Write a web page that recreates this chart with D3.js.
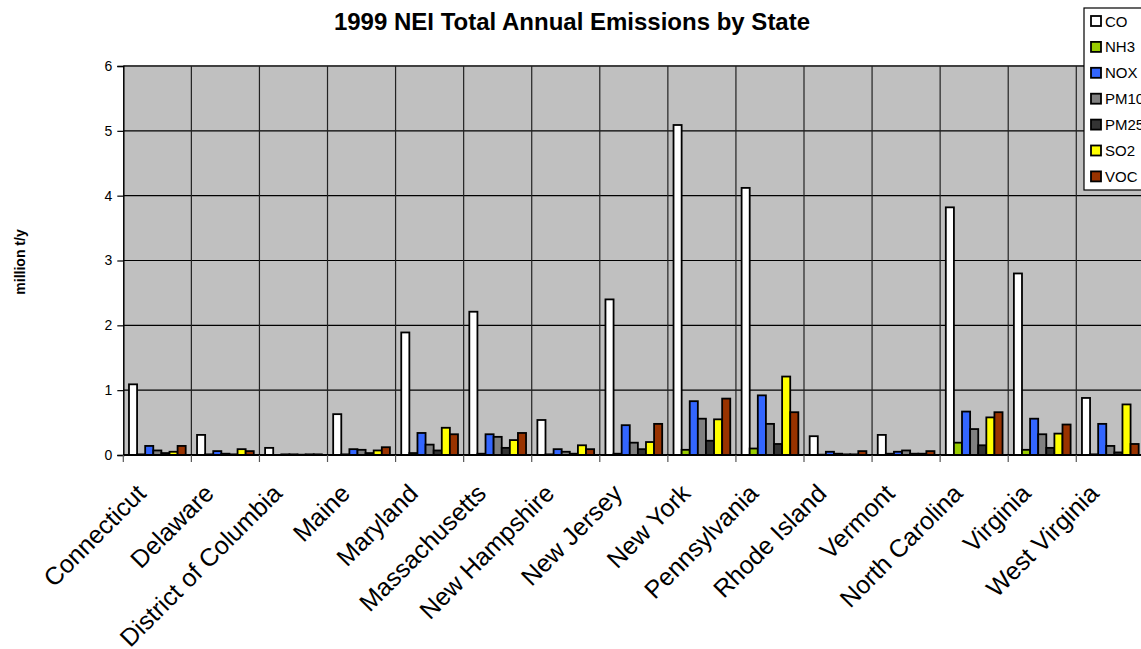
<!DOCTYPE html>
<html><head><meta charset="utf-8">
<script src="https://cdn.jsdelivr.net/npm/d3@7"></script>
<style>body{margin:0;background:#fff;} svg{display:block;font-family:Arial,"Liberation Sans",sans-serif;}</style>
</head><body>
<svg id="chart" width="1141" height="649"></svg>
<script>
const states = ["Connecticut","Delaware","District of Columbia","Maine","Maryland","Massachusetts","New Hampshire","New Jersey","New York","Pennsylvania","Rhode Island","Vermont","North Carolina","Virginia","West Virginia"];
const seriesNames = ["CO","NH3","NOX","PM10","PM25","SO2","VOC"];
const seriesColors = ["#FFFFFF","#99CC00","#3366FF","#808080","#333333","#FFFF00","#993300"];
const CO   = [1.09,0.31,0.11,0.63,1.89,2.21,0.54,2.40,5.09,4.12,0.29,0.31,3.82,2.80,0.88];
const NH3  = [0.01,0.01,0.00,0.01,0.03,0.02,0.01,0.02,0.08,0.10,0.005,0.02,0.19,0.08,0.01];
const NOX  = [0.14,0.06,0.01,0.09,0.34,0.32,0.09,0.46,0.83,0.92,0.05,0.05,0.67,0.56,0.48];
const PM10 = [0.07,0.02,0.01,0.08,0.16,0.28,0.05,0.19,0.56,0.48,0.02,0.07,0.40,0.32,0.14];
const PM25 = [0.03,0.01,0.005,0.03,0.07,0.11,0.02,0.09,0.22,0.17,0.01,0.02,0.15,0.11,0.04];
const SO2  = [0.05,0.09,0.01,0.07,0.42,0.23,0.15,0.20,0.55,1.21,0.01,0.02,0.58,0.33,0.78];
const VOC  = [0.14,0.06,0.01,0.12,0.32,0.34,0.09,0.48,0.87,0.66,0.06,0.06,0.66,0.47,0.17];
const yTicks = [0,1,2,3,4,5,6];
const seriesValues = [CO,NH3,NOX,PM10,PM25,SO2,VOC];

const svg = d3.select("#chart");
const L = 123.3, T = 66, B = 455, R = 123.3 + 15*68.07;

const x0 = d3.scaleBand().domain(states).range([L, R]).padding(0);
const x1 = d3.scaleBand().domain(seriesNames).range([0, x0.bandwidth()]).paddingInner(0).paddingOuter(0.7);
const y = d3.scaleLinear().domain([0,6]).range([B, T]);
const color = d3.scaleOrdinal().domain(seriesNames).range(seriesColors);

// plot background
svg.append("rect").attr("x", L).attr("y", T).attr("width", R-L).attr("height", B-T).attr("fill", "#C0C0C0");
svg.append("line").attr("x1", L).attr("x2", R).attr("y1", T).attr("y2", T).attr("stroke", "#808080").attr("stroke-width", 2);

// horizontal gridlines
svg.append("g").selectAll("line").data(yTicks.slice(1)).join("line")
  .attr("x1", L).attr("x2", R).attr("y1", d => y(d)).attr("y2", d => y(d))
  .attr("stroke", "#000").attr("stroke-width", 1.2);
// vertical gridlines
svg.append("g").selectAll("line").data(states.slice(1)).join("line")
  .attr("x1", d => x0(d)).attr("x2", d => x0(d)).attr("y1", T).attr("y2", B)
  .attr("stroke", "#222").attr("stroke-width", 1.2);

// bars
const groups = svg.append("g").selectAll("g").data(states).join("g")
  .attr("transform", d => `translate(${x0(d)},0)`);
groups.selectAll("rect").data((d,i) => seriesNames.map((s,j) => ({s, v: seriesValues[j][i]})))
  .join("rect")
  .attr("x", d => x1(d.s)).attr("width", x1.bandwidth())
  .attr("y", d => y(d.v)).attr("height", d => B - y(d.v))
  .attr("fill", d => color(d.s)).attr("stroke", "#000").attr("stroke-width", 1.8);

// y axis
const yAxis = d3.axisLeft(y).tickValues(yTicks).tickSize(6).tickPadding(5).tickFormat(d3.format("d"));
const gy = svg.append("g").attr("transform", `translate(${L},0)`).call(yAxis);
gy.select(".domain").attr("stroke", "#000").attr("stroke-width", 1.5);
gy.selectAll(".tick line").attr("stroke", "#000").attr("stroke-width", 1.2);
gy.selectAll(".tick text").attr("font-size", 14).attr("fill", "#000").attr("font-family", "Arial, 'Liberation Sans', sans-serif");

// x axis
const gx = svg.append("g").attr("transform", `translate(0,${B})`);
gx.append("line").attr("x1", L).attr("x2", R).attr("y1", 0).attr("y2", 0).attr("stroke", "#000").attr("stroke-width", 1.8);
gx.selectAll("line.tk").data(states.concat(["__end"])).join("line").attr("class","tk")
  .attr("x1", (d,i) => L + i*x0.step()).attr("x2", (d,i) => L + i*x0.step())
  .attr("y1", 0).attr("y2", 7).attr("stroke", "#555").attr("stroke-width", 1.2);
gx.selectAll("text").data(states).join("text")
  .attr("transform", d => `translate(${x0(d) + x0.bandwidth()/2 - 10},${40}) rotate(-45)`)
  .attr("text-anchor", "end").attr("font-size", 25).attr("fill", "#000")
  .text(d => d);

// title
svg.append("text").attr("x", 572).attr("y", 30).attr("text-anchor", "middle")
  .attr("font-size", 24).attr("font-weight", "bold").text("1999 NEI Total Annual Emissions by State");

// y label
svg.append("text").attr("transform", "translate(25,262) rotate(-90)").attr("text-anchor", "middle")
  .attr("font-size", 14).attr("font-weight", "bold").text("million t/y");

// legend
const lg = svg.append("g").attr("transform", "translate(1084,8)");
lg.append("rect").attr("x", 0).attr("y", 0).attr("width", 80).attr("height", 182)
  .attr("fill", "#fff").attr("stroke", "#000").attr("stroke-width", 1.2);
const li = lg.selectAll("g").data(seriesNames).join("g")
  .attr("transform", (d,i) => `translate(0,${13 + i*25.9})`);
li.append("rect").attr("x", 7).attr("y", -5).attr("width", 10).attr("height", 10)
  .attr("fill", d => color(d)).attr("stroke", "#000").attr("stroke-width", 1.8);
li.append("text").attr("x", 21).attr("y", 5.5).attr("font-size", 15).text(d => d);
</script>
</body></html>
